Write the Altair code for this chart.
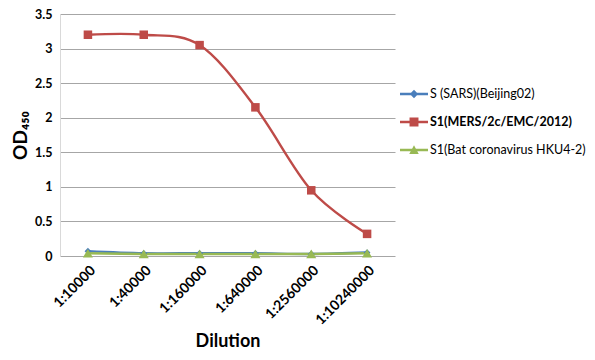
import altair as alt
import pandas as pd

dilutions = ["1:10000", "1:40000", "1:160000", "1:640000", "1:2560000", "1:10240000"]
series_names = ["S (SARS)(Beijing02)", "S1(MERS/2c/EMC/2012)", "S1(Bat coronavirus HKU4-2)"]
sars = [0.07, 0.04, 0.04, 0.04, 0.03, 0.05]
mers = [3.20, 3.20, 3.05, 2.15, 0.95, 0.32]
bat = [0.04, 0.03, 0.03, 0.03, 0.03, 0.04]
colors = ["#4a7ebb", "#be4b48", "#98b954"]

rows = []
for name, vals in zip(series_names, [sars, mers, bat]):
    for d, v in zip(dilutions, vals):
        rows.append({"Dilution": d, "OD": v, "Series": name, "z": 0})
df = pd.DataFrame(rows)

FONT = "Lato"
x = alt.X("Dilution:N", sort=dilutions, scale=alt.Scale(paddingInner=1, paddingOuter=0.5),
          axis=alt.Axis(title="Dilution", labelAngle=-45, labelFontWeight="bold", labelFontSize=14,
                        labelFont=FONT, labelColor="#000", ticks=False, domain=False, labelPadding=7,
                        titleFont=FONT, titleFontSize=18, titleFontWeight="bold", titleColor="#000",
                        titleY=76, titleBaseline="top"))
y = alt.Y("OD:Q", scale=alt.Scale(domain=[0, 3.5]),
          axis=alt.Axis(title="OD₄₅₀", values=[0, 0.5, 1, 1.5, 2, 2.5, 3, 3.5], format="~g",
                        labelFont=FONT, labelFontSize=12.5, labelFontWeight="bold", labelColor="#000",
                        labelPadding=8, ticks=False, domainColor="#d9d9d9", gridColor="#a6a6a6",
                        titleFont=FONT, titleFontSize=19, titleFontWeight="bold", titleColor="#000",
                        titlePadding=4))
cscale = alt.Scale(domain=series_names, range=colors)

base = alt.Chart(df)
line = base.mark_line(interpolate="cardinal", strokeWidth=2.4).encode(
    x=x, y=y, color=alt.Color("Series:N", scale=cscale, legend=None), detail="Series:N")
points = base.mark_point(filled=True, opacity=1).encode(
    x=x, y=y,
    color=alt.Color("Series:N", scale=cscale, legend=None),
    shape=alt.Shape("Series:N", scale=alt.Scale(domain=series_names, range=["diamond", "square", "triangle-up"]), legend=None),
    size=alt.Size("Series:N", scale=alt.Scale(domain=series_names, range=[45, 100, 90]), legend=None),
)

bar = "M-1,-0.09L1,-0.09L1,0.09L-1,0.09Z"
leg_shapes = [
    bar + "M0,-0.3L0.3,0L0,0.3L-0.3,0Z",
    bar + "M-0.32,-0.32L0.32,-0.32L0.32,0.32L-0.32,0.32Z",
    bar + "M0,-0.34L0.34,0.28L-0.34,0.28Z",
]
legend_layer = base.mark_point(filled=True, opacity=1).encode(
    x=x, y=y,
    opacity=alt.Opacity("z:Q", scale=alt.Scale(domain=[0, 1], range=[0, 0]), legend=None),
    color=alt.Color("Series:N", scale=cscale,
                    legend=alt.Legend(title=None, orient="none", legendX=340, legendY=66,
                                      symbolSize=784, symbolOpacity=1, symbolStrokeWidth=0,
                                      labelFont=FONT, labelFontSize=12.5, labelColor="#000",
                                      labelOffset=2, rowPadding=7, labelLimit=300,
                                      labelFontWeight=alt.ExprRef("datum.label == 'S1(MERS/2c/EMC/2012)' ? 'bold' : 'normal'"))),
    shape=alt.Shape("Series:N", scale=alt.Scale(domain=series_names, range=leg_shapes)),
)

chart = alt.layer(line, points, legend_layer).resolve_scale(shape="independent", size="independent").resolve_legend(
    color="independent", shape="independent").properties(
    width=335, height=242,
    autosize=alt.AutoSizeParams(type="none"),
    padding={"left": 52, "top": 6, "right": 192, "bottom": 96},
).configure_view(stroke=None).configure_axisY(gridWidth=1)

chart.save("out.html", embed_options={"renderer": "svg", "actions": False})
